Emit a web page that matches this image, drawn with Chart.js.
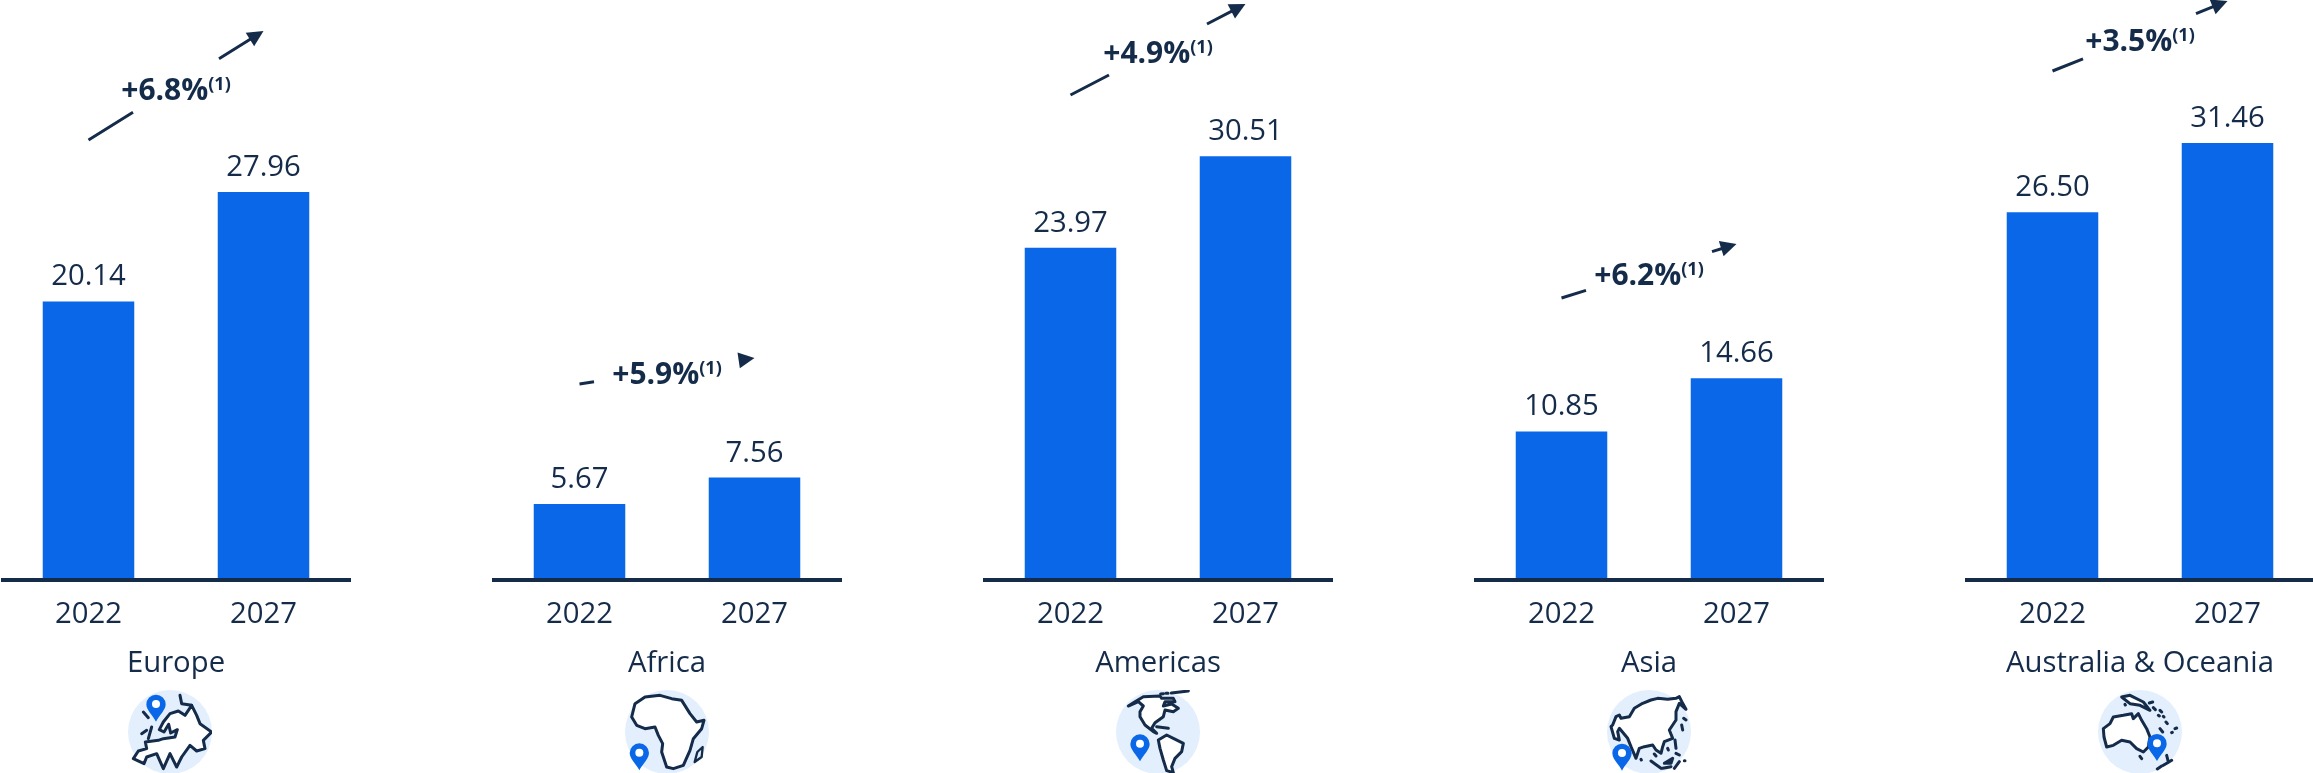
<!DOCTYPE html>
<html>
<head>
<meta charset="utf-8">
<title>Regional market size</title>
<script src="https://cdn.jsdelivr.net/npm/chart.js@4"></script>
<style>
    html, body { margin: 0; padding: 0; background: #fff; width: 2313px; height: 773px; overflow: hidden; }
    canvas { position: absolute; top: 0; }
    svg.icon { position: absolute; top: 690px; width: 84px; height: 84px; }
    svg.icon .land { fill: #fff; stroke: #142b4a; stroke-width: 9; stroke-linejoin: round; stroke-linecap: round; }
    svg.icon .isles { fill: none; stroke: #142b4a; stroke-width: 9; stroke-linejoin: round; stroke-linecap: round; }
</style>
</head>
<body>
<svg width="0" height="0" style="position:absolute">
    <symbol id="pin" viewBox="0 0 60 84" overflow="visible">
        <path d="M30 82 C20 62 1 48 1 30 A29 29 0 1 1 59 30 C59 48 40 62 30 82 Z" fill="#0a68e8"/>
        <circle cx="30" cy="29" r="12" fill="#fff"/>
    </symbol>
</svg>

<svg class="icon" style="left:128px" viewBox="384 449 252 252">
    <circle cx="510" cy="575" r="126" fill="#e3effd"/>
    <path class="land" d="M400 655 L415 632 L440 625 L436 605 L475 600 L490 595 L525 590 L532 568 L512 578 L506 552 L492 575 L478 568 L490 545 L510 520 L535 512 L555 525 L575 495 L590 525 L600 550 L635 575 L610 600 L615 625 L590 632 L570 615 L545 650 L530 680 L510 640 L490 685 L470 640 L440 650 L432 670 Z"/>
    <path class="isles" d="M540 465 L545 490 L575 495 M430 515 L445 532 M425 580 L440 570 M445 595 L455 560"/>
    <use href="#pin" x="438" y="462" width="60" height="84"/>
</svg>
<svg class="icon" style="left:625px" viewBox="255 1079 252 252">
    <circle cx="381" cy="1205" r="126" fill="#e3effd"/>
    <path class="land" d="M275 1160 L285 1120 L315 1100 L360 1095 L395 1105 L425 1110 L450 1150 L470 1175 L492 1170 L485 1195 L460 1225 L450 1260 L430 1305 L400 1315 L380 1310 L365 1265 L368 1240 L355 1215 L345 1190 L315 1195 L290 1185 Z"/>
    <path class="isles" style="stroke-width:7" d="M464 1295 L472 1265 L488 1250 L485 1280 Z"/>
    <use href="#pin" x="268" y="1238" width="60" height="84"/>
</svg>
<svg class="icon" style="left:1116px" viewBox="18 20 252 252">
    <circle cx="144" cy="146" r="126" fill="#e3effd"/>
    <path class="land" d="M55 68 L75 55 L100 40 L150 38 L155 45 L190 45 L195 55 L165 55 L160 68 L185 62 L205 75 L190 85 L165 80 L160 100 L135 118 L125 135 L140 150 L130 145 L105 125 L90 100 L90 85 L100 68 L85 55 Z"/>
    <path class="land" d="M145 170 L170 155 L190 165 L220 180 L215 205 L195 225 L185 250 L190 268 L170 262 L160 230 L150 195 Z"/>
    <path class="isles" d="M152 32 L160 31 M168 30 L174 30 M184 29 L235 23 M140 130 L175 135"/>
    <use href="#pin" x="60" y="152" width="60" height="84"/>
</svg>
<svg class="icon" style="left:1607px" viewBox="18 20 252 252">
    <circle cx="144" cy="146" r="126" fill="#e3effd"/>
    <path class="land" d="M35 125 L45 100 L55 95 L60 105 L85 100 L100 75 L125 60 L150 50 L170 45 L200 48 L225 45 L235 40 L245 60 L255 78 L235 60 L225 85 L225 110 L205 140 L215 165 L190 175 L185 190 L180 210 L165 200 L155 185 L130 190 L115 195 L105 225 L90 190 L80 165 L55 135 L50 145 L55 170 L40 165 L30 130 Z"/>
    <path class="isles" d="M248 105 L255 110 M242 125 L245 140 M222 170 L225 195 M200 195 L202 200 M120 228 L121 230 M150 233 L180 255 M160 212 L165 218 M190 240 L215 225 L210 240 Z M225 210 L235 215 M185 255 L210 250 M220 255 L235 235 M250 232 L252 232"/>
    <use href="#pin" x="33" y="180" width="60" height="84"/>
</svg>
<svg class="icon" style="left:2098px" viewBox="444 209 252 252">
    <circle cx="570" cy="335" r="126" fill="#e3effd"/>
    <path class="land" d="M460 325 L480 310 L490 290 L520 285 L545 280 L550 295 L565 280 L575 300 L590 325 L600 350 L595 380 L580 395 L560 385 L540 365 L515 360 L490 375 L470 380 L462 350 Z"/>
    <path class="land" d="M515 230 L540 225 L580 245 L600 270 L570 255 L540 250 Z"/>
    <path class="isles" d="M598 248 L608 245 M525 252 L526 254 M610 262 L616 268 M630 270 L635 275 M625 285 L628 287 M640 288 L642 290 M648 305 L652 310 M630 325 L638 335 M665 337 L667 336 M675 325 L680 323 M570 408 L575 415 M650 405 L655 425 M665 420 L640 435 M635 437 L622 446"/>
    <use href="#pin" x="591" y="340" width="60" height="84"/>
</svg>

<script>
const regions = ["Europe", "Africa", "Americas", "Asia", "Australia & Oceania"];
const years = ["2022", "2027"];
const values2022 = [20.14, 5.67, 23.97, 10.85, 26.50];
const values2027 = [27.96, 7.56, 30.51, 14.66, 31.46];
const cagr = ["+6.8%", "+5.9%", "+4.9%", "+6.2%", "+3.5%"];
const cagrNote = "(1)";

const INK = "#142b4a";
const BAR = "#0a68e8";
const PANEL_STEP = 491;
const PANEL_WIDTH = 350;
const FONT = "'Open Sans'";
const LABEL_SIZE = 29.3;

// growth arrow layout per panel: text baseline, line ends, and where the line breaks around the text
const cagrBaseline = [100, 384, 63, 285, 51];
const arrowFrom = [140, 384, 95, 298, 71];
const arrowTo = [31, 358, 4, 244, 1];
const arrowBreak = [[132, 218], [102, 248], [126, 224], [112, 238], [118, 231]];

Chart.defaults.font.family = FONT;
Chart.defaults.color = INK;

// axis line sits just under the bars, value labels above them, growth arrow on top
const panelDecor = (i) => ({
    id: "panelDecor",
    afterDatasetsDraw(chart) {
        const ctx = chart.ctx;
        const area = chart.chartArea;
        const bars = chart.getDatasetMeta(0).data;

        ctx.save();
        ctx.fillStyle = INK;
        ctx.fillRect(area.left, area.bottom, area.right - area.left, 4);

        ctx.font = LABEL_SIZE + "px " + FONT;
        ctx.textAlign = "center";
        ctx.textBaseline = "alphabetic";
        bars.forEach((bar, k) => {
            const v = chart.data.datasets[0].data[k];
            ctx.fillText(v.toFixed(2), bar.x, bar.y - 16);
        });

        // arrow runs from over the first bar to over the second
        const x0 = bars[0].x, x1 = bars[1].x;
        const y0 = arrowFrom[i], y1 = arrowTo[i];
        const slope = (y1 - y0) / (x1 - x0);
        const yAt = (x) => y0 + (x - x0) * slope;
        const len = Math.hypot(x1 - x0, y1 - y0);
        const dx = (x1 - x0) / len, dy = (y1 - y0) / len;

        ctx.strokeStyle = INK;
        ctx.lineWidth = 3;
        ctx.beginPath();
        ctx.moveTo(x0, y0);
        ctx.lineTo(arrowBreak[i][0], yAt(arrowBreak[i][0]));
        ctx.moveTo(arrowBreak[i][1], yAt(arrowBreak[i][1]));
        ctx.lineTo(x1 - dx * 10, y1 - dy * 10);
        ctx.stroke();

        const mx = x1 - dx * 16, my = y1 - dy * 16;
        ctx.beginPath();
        ctx.moveTo(x1, y1);
        ctx.lineTo(mx - dy * 8, my + dx * 8);
        ctx.lineTo(mx + dy * 8, my - dx * 8);
        ctx.closePath();
        ctx.fill();

        // bold rate with a small footnote mark, centred together on the panel
        const mainFont = "bold 30px " + FONT;
        const noteFont = "bold 18px " + FONT;
        ctx.textAlign = "left";
        ctx.font = mainFont;
        const w1 = ctx.measureText(cagr[i]).width;
        ctx.font = noteFont;
        const w2 = ctx.measureText(cagrNote).width;
        const left = (area.left + area.right) / 2 - (w1 + w2) / 2;
        ctx.font = mainFont;
        ctx.fillText(cagr[i], left, cagrBaseline[i]);
        ctx.font = noteFont;
        ctx.fillText(cagrNote, left + w1, cagrBaseline[i] - 10);
        ctx.restore();
    }
});

regions.forEach((region, i) => {
    const canvas = document.createElement("canvas");
    canvas.width = PANEL_WIDTH;
    canvas.height = 773;
    canvas.style.left = (1 + PANEL_STEP * i) + "px";
    document.body.appendChild(canvas);

    new Chart(canvas, {
        type: "bar",
        data: {
            labels: years,
            datasets: [{
                data: [values2022[i], values2027[i]],
                backgroundColor: BAR,
                barPercentage: 0.523,
                categoryPercentage: 1
            }]
        },
        options: {
            responsive: false,
            animation: false,
            layout: { padding: { top: 26 } },
            plugins: { legend: { display: false }, tooltip: { enabled: false } },
            scales: {
                // the bars are not quite zero based, the axis starts a little above 0
                y: { display: false, min: 0.386, max: 39.81 },
                x: {
                    afterFit(scale) { scale.height = 195; },
                    grid: { display: false, drawTicks: false },
                    border: { display: false },
                    ticks: { color: INK, font: { size: LABEL_SIZE }, padding: 19, maxRotation: 0 },
                    title: {
                        display: true,
                        text: region,
                        color: INK,
                        font: { size: LABEL_SIZE },
                        padding: { top: 0, bottom: 92 }
                    }
                }
            }
        },
        plugins: [panelDecor(i)]
    });
});
</script>
</body>
</html>
